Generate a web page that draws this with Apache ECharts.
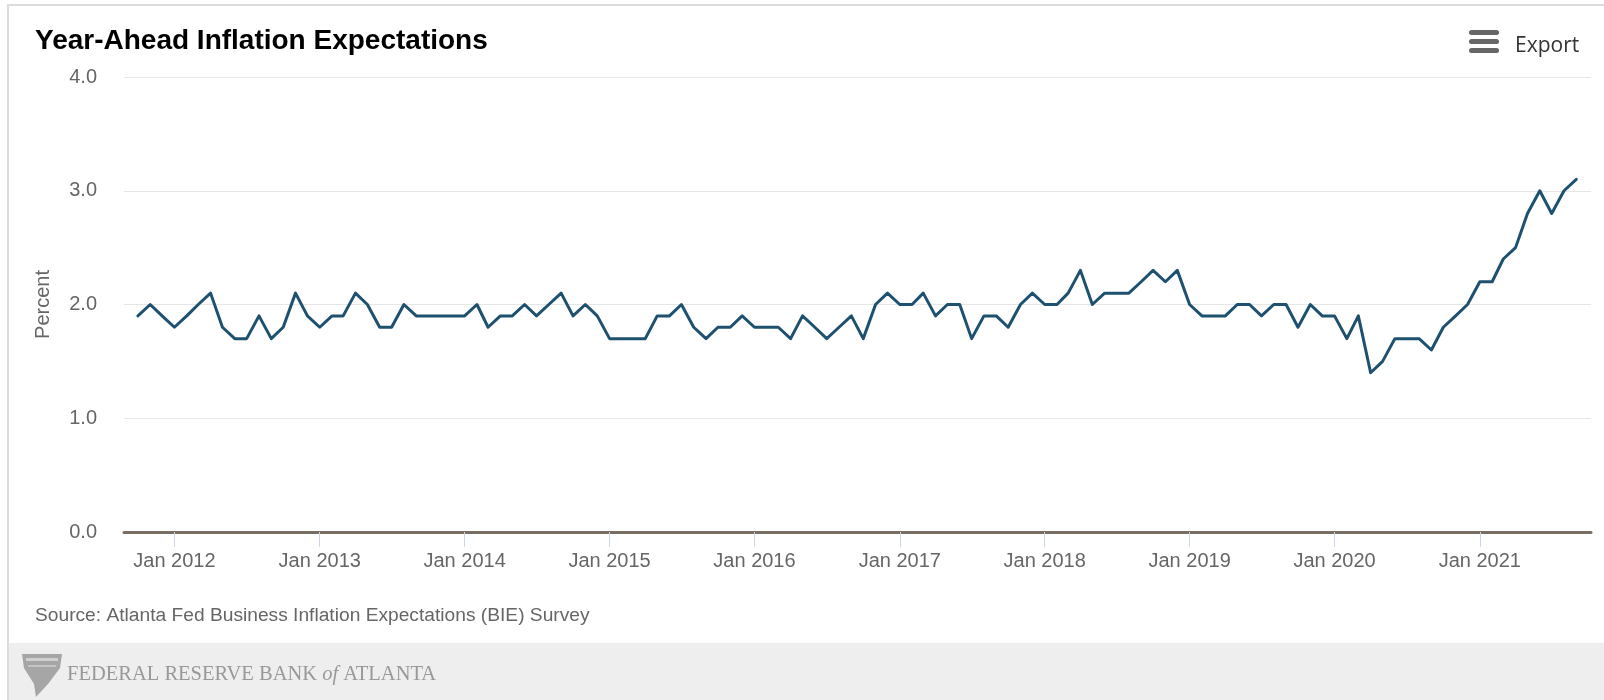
<!DOCTYPE html>
<html>
<head>
<meta charset="utf-8">
<script src="https://cdn.jsdelivr.net/npm/echarts@6/dist/echarts.min.js"></script>
<style>
html, body { margin: 0; padding: 0; background: #ffffff; }
#chart { width: 1604px; height: 700px; }
</style>
</head>
<body>
<div id="chart"></div>
<script>
// ---- Data ----
const firstMonth = [2011, 10]; // October 2011, monthly observations
const inflationExpectations = [
  1.9, 2.0, 1.9,                                              // 2011 Oct-Dec
  1.8, 1.9, 2.0, 2.1, 1.8, 1.7, 1.7, 1.9, 1.7, 1.8, 2.1, 1.9, // 2012
  1.8, 1.9, 1.9, 2.1, 2.0, 1.8, 1.8, 2.0, 1.9, 1.9, 1.9, 1.9, // 2013
  1.9, 2.0, 1.8, 1.9, 1.9, 2.0, 1.9, 2.0, 2.1, 1.9, 2.0, 1.9, // 2014
  1.7, 1.7, 1.7, 1.7, 1.9, 1.9, 2.0, 1.8, 1.7, 1.8, 1.8, 1.9, // 2015
  1.8, 1.8, 1.8, 1.7, 1.9, 1.8, 1.7, 1.8, 1.9, 1.7, 2.0, 2.1, // 2016
  2.0, 2.0, 2.1, 1.9, 2.0, 2.0, 1.7, 1.9, 1.9, 1.8, 2.0, 2.1, // 2017
  2.0, 2.0, 2.1, 2.3, 2.0, 2.1, 2.1, 2.1, 2.2, 2.3, 2.2, 2.3, // 2018
  2.0, 1.9, 1.9, 1.9, 2.0, 2.0, 1.9, 2.0, 2.0, 1.8, 2.0, 1.9, // 2019
  1.9, 1.7, 1.9, 1.4, 1.5, 1.7, 1.7, 1.7, 1.6, 1.8, 1.9, 2.0, // 2020
  2.2, 2.2, 2.4, 2.5, 2.8, 3.0, 2.8, 3.0, 3.1                 // 2021 Jan-Sep
];
const tickYears = [2012, 2013, 2014, 2015, 2016, 2017, 2018, 2019, 2020, 2021];
const yTicks = [0, 1, 2, 3, 4];
const titleText = 'Year-Ahead Inflation Expectations';
const yAxisTitle = 'Percent';
const sourceText = 'Source: Atlanta Fed Business Inflation Expectations (BIE) Survey';

// ---- Build series from the data ----
const seriesData = inflationExpectations.map(function (v, i) {
  const t = Date.UTC(firstMonth[0], firstMonth[1] - 1 + i, 1);
  return [t, v];
});
const tickValues = tickYears.map(function (y) { return Date.UTC(y, 0, 1); });

const chart = echarts.init(document.getElementById('chart'), null, { renderer: 'canvas' });

const option = {
  backgroundColor: '#ffffff',
  animation: false,
  title: {
    text: titleText,
    left: 30,
    top: 22,
    textStyle: { fontFamily: 'Liberation Sans', fontWeight: 'bold', fontSize: 28, color: '#000000' }
  },
  grid: { left: 124, right: 13, top: 77, bottom: 168, containLabel: false },
  xAxis: {
    type: 'value',
    min: Date.UTC(2011, 7, 27),
    max: Date.UTC(2021, 9, 8),
    axisLine: { show: true, lineStyle: { color: '#7a6e62', width: 3 } },
    axisTick: { show: true, customValues: tickValues, length: 15, lineStyle: { color: '#ccd6eb', width: 1 } },
    axisLabel: {
      customValues: tickValues,
      formatter: function (v) { return 'Jan ' + new Date(v).getUTCFullYear(); },
      color: '#666666', fontSize: 20, fontFamily: 'Liberation Sans', margin: 19
    },
    splitLine: { show: false }
  },
  yAxis: {
    type: 'value',
    min: yTicks[0],
    max: yTicks[yTicks.length - 1],
    interval: 1,
    name: yAxisTitle,
    nameLocation: 'middle',
    nameRotate: 90,
    nameGap: 71,
    nameTextStyle: { color: '#666666', fontSize: 20, fontFamily: 'Liberation Sans' },
    axisLine: { show: false },
    axisTick: { show: false },
    axisLabel: {
      formatter: function (v) { return v.toFixed(1); },
      color: '#666666', fontSize: 20, fontFamily: 'Liberation Sans', margin: 27
    },
    splitLine: { show: true, lineStyle: { color: '#e6e6e6', width: 1 } }
  },
  series: [{
    type: 'line',
    name: 'Year-Ahead Inflation Expectations',
    data: seriesData,
    showSymbol: false,
    lineStyle: { color: '#1e5170', width: 3, join: 'round', cap: 'round' },
    itemStyle: { color: '#1e5170' }
  }],
  graphic: [
    // outer frame
    { type: 'line', shape: { x1: 7, y1: 5, x2: 1604, y2: 5 }, style: { stroke: '#dcdcdc', lineWidth: 2 }, silent: true },
    { type: 'line', shape: { x1: 8, y1: 5, x2: 8, y2: 700 }, style: { stroke: '#dcdcdc', lineWidth: 2 }, silent: true },
    // footer band
    { type: 'rect', shape: { x: 9, y: 643, width: 1595, height: 57 }, style: { fill: '#eeeeee' }, silent: true },
    // logo shield
    { type: 'polygon', shape: { points: [[22, 654], [62, 654], [60, 668], [48, 684], [36, 697], [34, 684], [24, 668]] },
      style: { fill: '#a6a6a6' }, silent: true },
    { type: 'rect', shape: { x: 26, y: 658, width: 32, height: 3 }, style: { fill: '#d0d0d0' }, silent: true },
    { type: 'rect', shape: { x: 28, y: 665, width: 28, height: 2 }, style: { fill: '#c4c4c4' }, silent: true },
    { type: 'text', left: 67, top: 664,
      style: {
        text: '{a|FEDERAL RESERVE BANK }{b|of}{a| ATLANTA}',
        rich: {
          a: { fontFamily: 'Liberation Serif', fontSize: 20.5, fill: '#999999' },
          b: { fontFamily: 'Liberation Serif', fontStyle: 'italic', fontSize: 20.5, fill: '#999999' }
        }
      }, silent: true },
    // source
    { type: 'text', left: 35, top: 606,
      style: { text: sourceText, fontFamily: 'Liberation Sans', fontSize: 19.2, fill: '#666666' }, silent: true },
    // export button
    { type: 'rect', shape: { x: 1469, y: 30, width: 30, height: 5, r: 2.5 }, style: { fill: '#666666' } },
    { type: 'rect', shape: { x: 1469, y: 39, width: 30, height: 5, r: 2.5 }, style: { fill: '#666666' } },
    { type: 'rect', shape: { x: 1469, y: 48, width: 30, height: 5, r: 2.5 }, style: { fill: '#666666' } },
    { type: 'text', left: 1515, top: 36,
      style: { text: 'Export', fontFamily: 'Open Sans', fontSize: 21, fill: '#333333' } }
  ]
};
chart.setOption(option);
</script>
</body>
</html>
